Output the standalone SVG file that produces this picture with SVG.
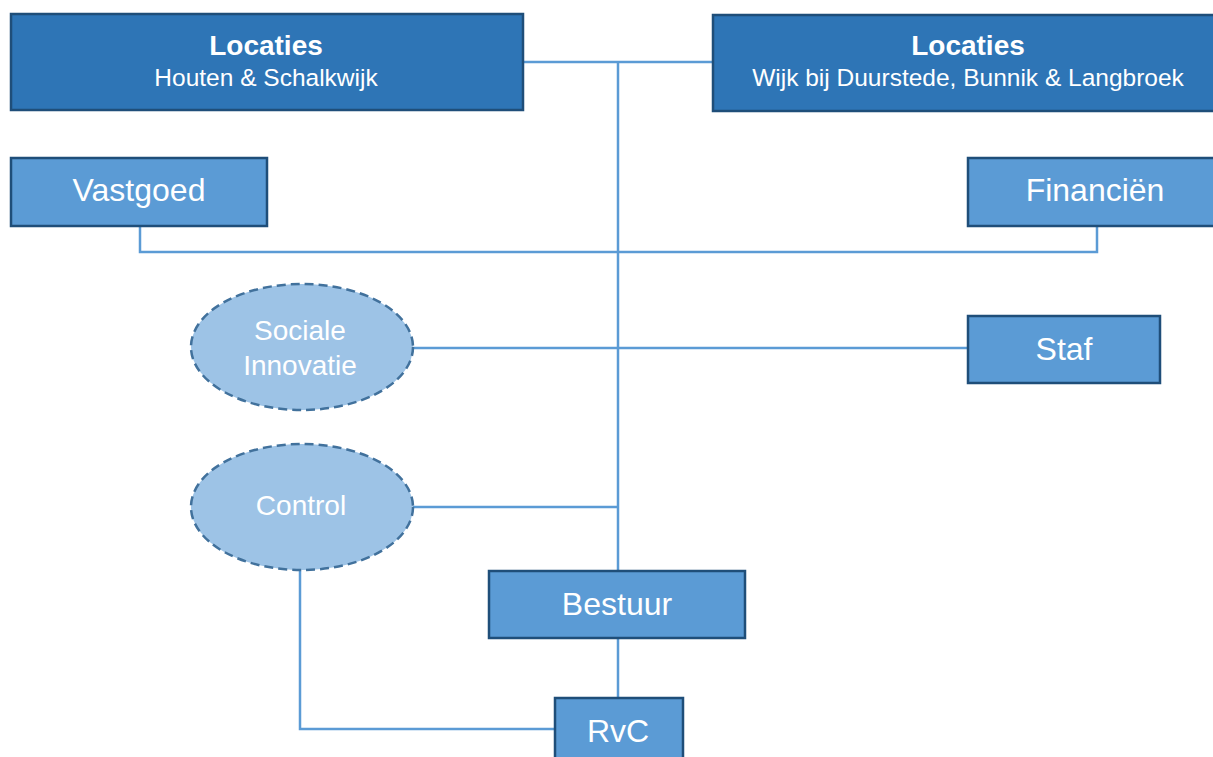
<svg xmlns="http://www.w3.org/2000/svg" width="1213" height="757" viewBox="0 0 1213 757">
  <style>
    .dark { fill: #2e75b6; stroke: #1f4e79; stroke-width: 2.5; }
    .box { fill: #5b9bd5; stroke: #1f4e79; stroke-width: 2.5; }
    .oval { fill: #9dc3e6; stroke: #41719c; stroke-width: 2.5; stroke-dasharray: 9 5; }
    .link { fill: none; stroke: #5b9bd5; stroke-width: 2.5; }
    text { font-family: "Liberation Sans", Arial, sans-serif; fill: #ffffff; text-anchor: middle; }
    .title { font-size: 28px; font-weight: bold; }
    .sub { font-size: 24.5px; }
    .big { font-size: 32px; }
    .mid { font-size: 28px; }
  </style>
  <rect width="1213" height="757" fill="#ffffff"/>

  <!-- connectors -->
  <g id="connectors">
    <path class="link" d="M523 62 H713"/>
    <path class="link" d="M618 62 V571"/>
    <path class="link" d="M140 226 V252 H1097 V226"/>
    <path class="link" d="M413 348 H968"/>
    <path class="link" d="M413 507 H618"/>
    <path class="link" d="M618 638 V698"/>
    <path class="link" d="M300 570 V729 H555"/>
  </g>

  <g id="locaties-houten">
    <rect class="dark" x="11" y="14" width="512" height="96"/>
    <text class="title" x="266" y="55">Locaties</text>
    <text class="sub" x="266" y="86">Houten &amp; Schalkwijk</text>
  </g>

  <g id="locaties-wijk">
    <rect class="dark" x="713" y="15" width="504" height="96"/>
    <text class="title" x="968" y="55">Locaties</text>
    <text class="sub" x="968" y="86">Wijk bij Duurstede, Bunnik &amp; Langbroek</text>
  </g>

  <g id="vastgoed">
    <rect class="box" x="11" y="158" width="256" height="68"/>
    <text class="big" x="139" y="201">Vastgoed</text>
  </g>

  <g id="financien">
    <rect class="box" x="968" y="158" width="249" height="68"/>
    <text class="big" x="1095" y="201">Financiën</text>
  </g>

  <g id="sociale-innovatie">
    <ellipse class="oval" cx="302" cy="347" rx="111" ry="63"/>
    <text class="mid" x="300" y="340">Sociale</text>
    <text class="mid" x="300" y="375">Innovatie</text>
  </g>

  <g id="staf">
    <rect class="box" x="968" y="316" width="192" height="67"/>
    <text class="big" x="1064" y="360">Staf</text>
  </g>

  <g id="control">
    <ellipse class="oval" cx="302" cy="507" rx="111" ry="63"/>
    <text class="mid" x="301" y="515">Control</text>
  </g>

  <g id="bestuur">
    <rect class="box" x="489" y="571" width="256" height="67"/>
    <text class="big" x="617" y="615">Bestuur</text>
  </g>

  <g id="rvc">
    <rect class="box" x="555" y="698" width="128" height="64"/>
    <text class="big" x="618" y="742">RvC</text>
  </g>
</svg>
